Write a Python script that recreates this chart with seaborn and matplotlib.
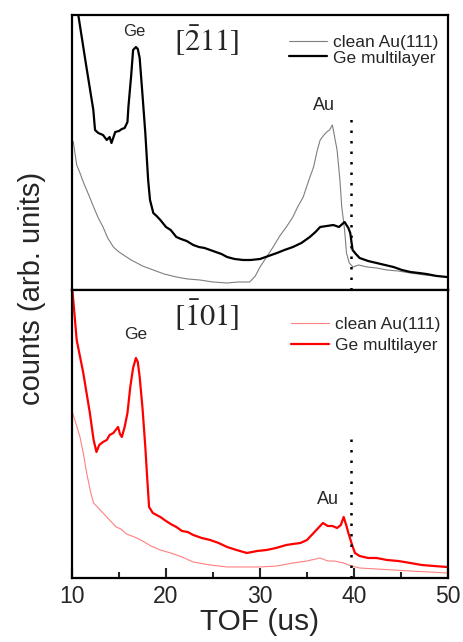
import matplotlib
matplotlib.use("Agg")
import matplotlib.pyplot as plt
import numpy as np
import pandas as pd
import seaborn as sns

# --- data (TOF in us, counts in arb. units) ---
tof_top_ge = [10.0, 10.67, 11.5, 12.27, 12.45, 12.8, 13.3, 13.7, 14.0, 14.2, 14.6, 15.0, 15.3, 15.6, 15.9,
              16.0, 16.3, 16.5, 16.8, 17.0, 17.2, 17.5, 17.8, 18.1, 18.3, 18.65, 19.0, 19.4, 20.0, 20.5,
              21.1, 21.6, 22.2, 22.9, 23.5, 24.1, 24.7, 25.3, 25.9, 26.5, 27.3, 28.2, 29.0, 30.0, 30.9,
              31.8, 32.6, 33.5, 34.4, 35.3, 35.9, 36.4, 37.1, 37.8, 38.4, 39.0, 39.4, 39.6, 39.85, 40.2,
              40.6, 41.5, 42.4, 43.3, 44.2, 45.1, 46.0, 46.9, 47.7, 48.8, 49.9]
cnt_top_ge = [315, 275, 225, 180, 160, 157, 155, 150, 153, 147, 158, 159, 161, 162, 168,
              183, 215, 240, 243, 241, 232, 195, 157, 110, 90, 77, 74, 70, 63, 60,
              53, 51, 49, 45, 43, 42, 40, 38, 36, 33, 31, 30, 30, 31, 34,
              37, 40, 43, 47, 53, 58, 63, 64, 65, 63, 68, 62, 57, 40, 36,
              32, 29, 27, 25, 23, 20, 18, 17, 16, 14, 13]

tof_top_au = [10.0, 10.14, 10.5, 10.85, 11.2, 11.56, 12.0, 12.3, 12.8, 13.3, 13.8, 14.4, 15.0, 15.8, 16.3,
              16.9, 17.5, 18.65, 19.8, 21.1, 22.3, 23.6, 25.0, 26.5, 27.7, 28.9, 29.5, 30.0, 30.7, 31.4,
              32.1, 32.8, 33.5, 34.0, 34.6, 35.2, 35.7, 36.1, 36.4, 36.8, 37.1, 37.4, 37.7, 38.0, 38.2,
              38.5, 38.7, 39.0, 39.2, 39.5, 39.9, 40.5, 41.4, 42.4, 43.5, 44.7, 46.0, 47.5, 48.7, 49.9]
cnt_top_au = [150, 148, 125, 117, 108, 100, 90, 83, 72, 63, 52, 43, 38, 33, 30,
              27, 24, 20, 16, 13, 11, 10, 8, 7, 8, 8, 14, 23, 33, 43,
              54, 63, 73, 83, 93, 110, 123, 140, 150, 155, 158, 160, 165, 150, 140,
              110, 83, 60, 37, 27, 23, 25, 23, 22, 20, 19, 17, 15, 14, 13]

tof_bot_ge = [10.0, 10.07, 10.5, 11.2, 11.9, 12.3, 12.6, 12.9, 13.3, 13.7, 14.0, 14.4, 14.9, 15.1, 15.3,
              15.6, 15.9, 16.2, 16.5, 16.8, 17.0, 17.2, 17.5, 17.8, 18.0, 18.2, 18.6, 19.0, 19.4, 20.0,
              20.5, 21.1, 21.7, 22.3, 22.9, 23.8, 24.7, 25.6, 26.5, 27.5, 28.6, 29.7, 30.7, 31.7, 32.8,
              33.5, 34.3, 35.0, 35.7, 36.2, 36.7, 37.2, 37.7, 38.2, 38.6, 38.9, 39.2, 39.4, 39.8, 40.1,
              40.6, 41.5, 42.4, 43.5, 44.7, 46.0, 47.2, 48.5, 49.9]
cnt_bot_ge = [290, 285, 238, 205, 165, 138, 126, 133, 136, 138, 143, 145, 151, 144, 141,
              151, 165, 191, 210, 220, 216, 201, 170, 131, 100, 71, 65, 63, 61, 57,
              54, 51, 47, 46, 43, 40, 38, 35, 31, 28, 25, 27, 28, 30, 33,
              34, 35, 38, 45, 50, 55, 52, 52, 50, 53, 61, 52, 45, 33, 25,
              22, 20, 20, 18, 17, 15, 13, 12, 11]

tof_bot_au = [10.0, 10.07, 10.5, 10.85, 11.2, 11.56, 12.0, 12.3, 12.8, 13.3, 14.0, 14.7, 15.2, 15.8, 16.9,
              17.5, 18.4, 19.4, 20.5, 21.7, 22.9, 24.7, 26.5, 28.2, 30.0, 31.8, 33.5, 35.0, 36.4, 37.2,
              37.9, 38.9, 39.7, 40.6, 42.4, 44.2, 46.0, 48.0, 49.9]
cnt_bot_au = [168, 165, 152, 141, 125, 105, 85, 75, 70, 65, 58, 51, 49, 44, 40,
              37, 32, 28, 25, 21, 16, 13, 11, 11, 11, 12, 15, 17, 20, 17,
              17, 15, 12, 10, 9, 8, 7, 6, 5]

edge_tof = 39.7
edge_top = [0, 173]
edge_bot = [0, 145]

series_labels = ["clean Au(111)", "Ge multilayer"]
panel_titles = [r"$[\bar{2}11]$", r"$[\bar{1}01]$"]

sns.set_theme(style="white")
plt.rcParams["font.family"] = ["Liberation Sans", "DejaVu Sans"]
plt.rcParams["mathtext.fontset"] = "stix"

fig = plt.figure(figsize=(4.63, 6.42), dpi=100)
ax1 = fig.add_axes([0.1555, 0.5483, 0.8121, 0.4283])
ax2 = fig.add_axes([0.1555, 0.0997, 0.8121, 0.4486])

top_au = pd.DataFrame({"tof": tof_top_au, "counts": cnt_top_au})
top_ge = pd.DataFrame({"tof": tof_top_ge, "counts": cnt_top_ge})
bot_au = pd.DataFrame({"tof": tof_bot_au, "counts": cnt_bot_au})
bot_ge = pd.DataFrame({"tof": tof_bot_ge, "counts": cnt_bot_ge})

sns.lineplot(data=top_au, x="tof", y="counts", ax=ax1, color="#7f7f7f", lw=0.8, label=series_labels[0])
sns.lineplot(data=top_ge, x="tof", y="counts", ax=ax1, color="black", lw=1.6, label=series_labels[1])
sns.lineplot(data=bot_au, x="tof", y="counts", ax=ax2, color="#ff8080", lw=0.8, label=series_labels[0])
sns.lineplot(data=bot_ge, x="tof", y="counts", ax=ax2, color="#ff0000", lw=1.6, label=series_labels[1])

ax1.vlines(edge_tof, edge_top[0], edge_top[1], color="black", lw=1.8, linestyles=(0, (1, 3.2)))
ax2.vlines(edge_tof, edge_bot[0], edge_bot[1], color="black", lw=1.8, linestyles=(0, (1, 3.2)))

ax1.set_ylim(0, 275)
ax2.set_ylim(0, 288)
for ax in (ax1, ax2):
    ax.set_xlim(10, 50)
    ax.set_ylabel("")
    ax.set_xlabel("")
    ax.set_yticks([])
    for sp in ax.spines.values():
        sp.set_linewidth(1.6)
        sp.set_color("black")

ax1.set_xticks([])
ax2.set_xticks([10, 20, 30, 40, 50])
ax2.set_xticks([15, 25, 35, 45], minor=True)
ax2.tick_params(axis="x", which="major", direction="in", length=7, width=1.5, labelsize=16.5, pad=5, bottom=True)
ax2.tick_params(axis="x", which="minor", direction="in", length=4, width=1.5, bottom=True)
ax2.set_xlabel("TOF (us)", fontsize=21.5, labelpad=0)

fig.text(32 / 463, 1 - 288 / 642, "counts (arb. units)", rotation=90, ha="center", va="center", fontsize=21)

# peak labels and directions
ax1.text(16.6, 259, "Ge", fontsize=12, ha="center", va="center")
ax1.text(36.8, 185, "Au", fontsize=13, ha="center", va="center")
ax1.text(24.3, 249, panel_titles[0], fontsize=22, ha="center", va="center")
ax2.text(16.8, 243, "Ge", fontsize=12.5, ha="center", va="center")
ax2.text(37.2, 78, "Au", fontsize=13, ha="center", va="center")
ax2.text(24.3, 263, panel_titles[1], fontsize=22, ha="center", va="center")

leg_kw = dict(frameon=False, fontsize=12.5, handlelength=2.2, handletextpad=0.35, borderpad=0,
              loc="upper left")
ax1.legend(bbox_to_anchor=(0.553, 0.958), labelspacing=0.0, **leg_kw)
ax2.legend(bbox_to_anchor=(0.559, 0.936), labelspacing=0.3, **leg_kw)

fig.savefig("out.png", dpi=100)
